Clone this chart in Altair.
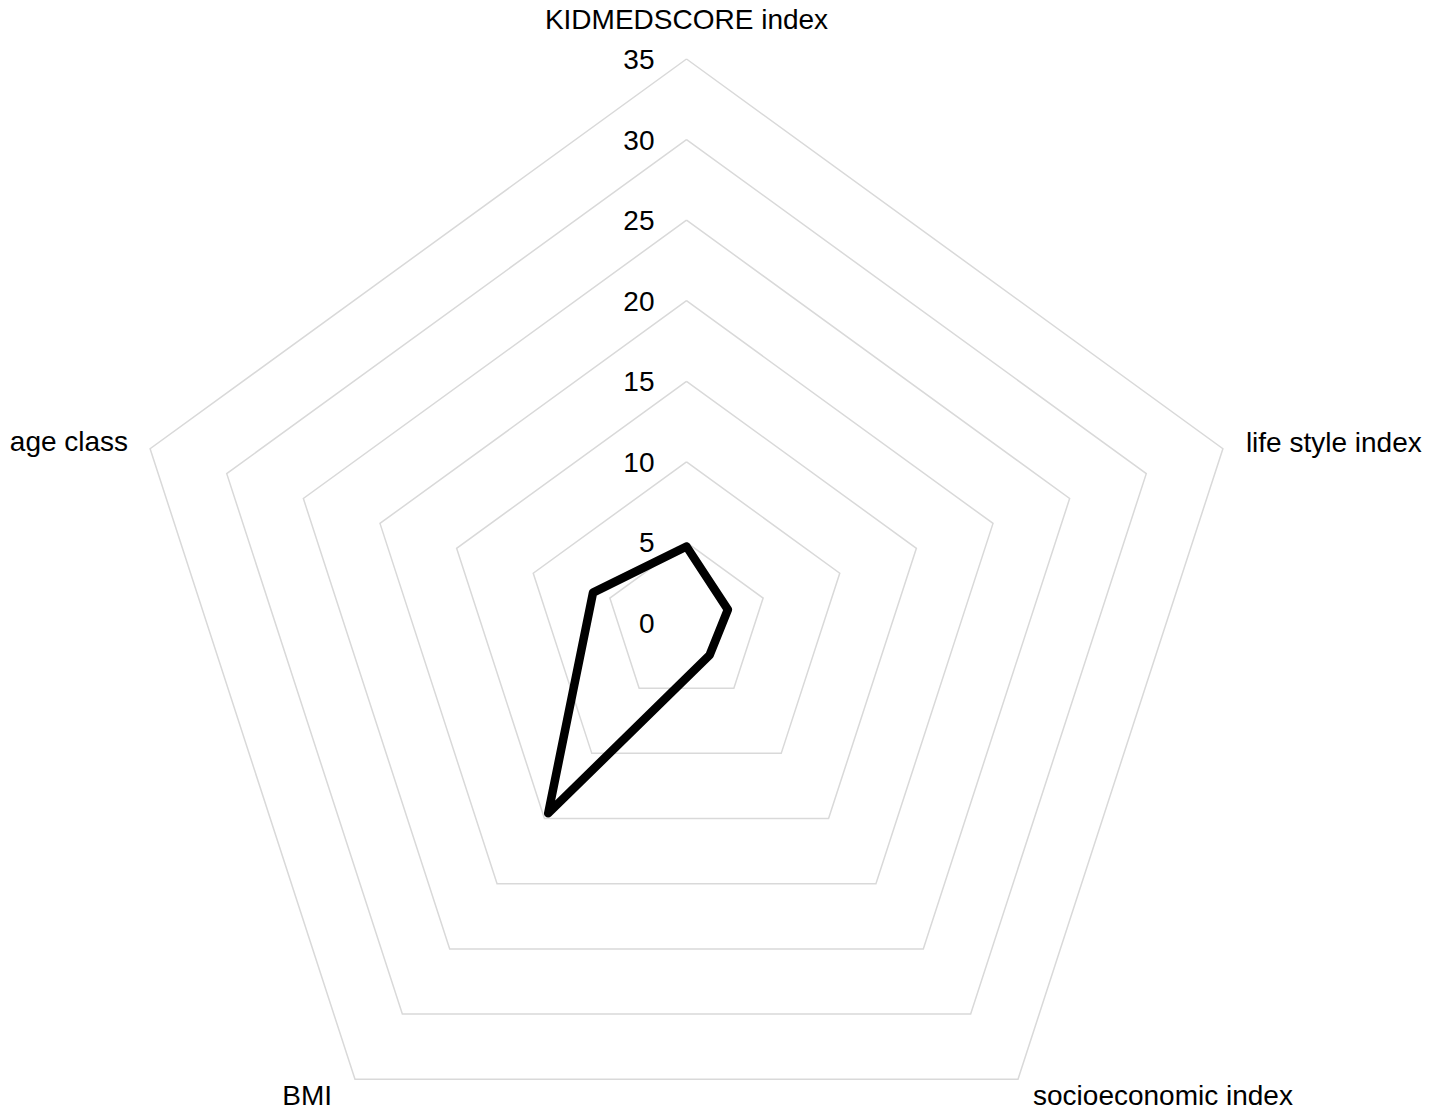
import altair as alt
import pandas as pd

# ---- data ----
categories = ["KIDMEDSCORE index", "life style index", "socioeconomic index", "BMI", "age class"]
values = [4.75, 2.7, 2.45, 14.6, 6.1]
ring_values = [5, 10, 15, 20, 25, 30, 35]
tick_values = [0, 5, 10, 15, 20, 25, 30, 35]

# ---- layout ----
W, H = 1414, 1104
CX, CY = 678.5, 615.0       # centre in plot pixels
R_MAX = 35
PX_PER_UNIT = 564.0 / R_MAX
x_dom = [-CX / PX_PER_UNIT, (W - CX) / PX_PER_UNIT]
y_dom = [-(H - CY) / PX_PER_UNIT, CY / PX_PER_UNIT]
FONT = "Liberation Sans"
N = len(categories)

xs = alt.Scale(domain=x_dom, nice=False, zero=False)
ys = alt.Scale(domain=y_dom, nice=False, zero=False)

def polar(chart):
    return chart.transform_calculate(
        ang=f"PI/2 - 2*PI*datum.idx/{N}"
    ).transform_calculate(
        px="datum.r*cos(datum.ang)", py="datum.r*sin(datum.ang)"
    )

# grid rings
ring_rows = [{"ring": rv, "idx": i % N, "ord": i, "r": rv} for rv in ring_values for i in range(N + 1)]
ring_df = pd.DataFrame(ring_rows)
rings = polar(alt.Chart(ring_df)).mark_line(color="#d9d9d9", strokeWidth=1.5).encode(
    x=alt.X("px:Q", scale=xs, axis=None),
    y=alt.Y("py:Q", scale=ys, axis=None),
    detail="ring:N",
    order="ord:Q",
)

# data polygon
data_rows = [{"cat": categories[i % N], "idx": i % N, "ord": i, "r": values[i % N]} for i in range(N + 1)]
data_df = pd.DataFrame(data_rows)
poly = polar(alt.Chart(data_df)).mark_line(color="black", strokeWidth=8.5, strokeJoin="round", strokeCap="round").encode(
    x=alt.X("px:Q", scale=xs, axis=None),
    y=alt.Y("py:Q", scale=ys, axis=None),
    order="ord:Q",
)

# tick labels along the top axis
tick_df = pd.DataFrame({"t": tick_values, "idx": 0, "r": tick_values})
ticks = polar(alt.Chart(tick_df)).mark_text(
    align="right", baseline="middle", dx=-32, dy=2, fontSize=28, font=FONT, color="black"
).encode(
    x=alt.X("px:Q", scale=xs, axis=None),
    y=alt.Y("py:Q", scale=ys, axis=None),
    text="t:N",
)

# category labels
label_styles = [
    dict(align="center", dx=0, dy=-38),
    dict(align="left", dx=23, dy=-5),
    dict(align="left", dx=15, dy=18),
    dict(align="right", dx=-23, dy=18),
    dict(align="right", dx=-22, dy=-6),
]
label_layers = []
for i, st in enumerate(label_styles):
    df = pd.DataFrame({"cat": [categories[i]], "idx": [i], "r": [R_MAX]})
    label_layers.append(
        polar(alt.Chart(df)).mark_text(
            baseline="middle", fontSize=28, font=FONT, color="black", **st
        ).encode(
            x=alt.X("px:Q", scale=xs, axis=None),
            y=alt.Y("py:Q", scale=ys, axis=None),
            text="cat:N",
        )
    )

chart = alt.layer(rings, poly, ticks, *label_layers).properties(
    width=W, height=H, autosize=alt.AutoSizeParams(type="none"), padding=0
).configure_view(stroke=None)

chart.save("out.html", embed_options={"renderer": "svg", "actions": False})
